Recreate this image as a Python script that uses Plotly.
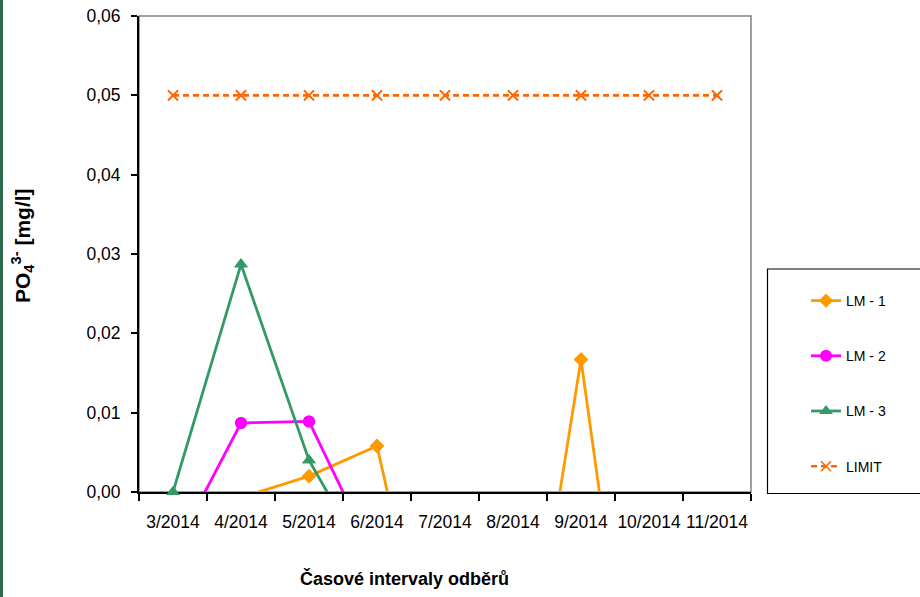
import plotly.graph_objects as go

# Sampling months and PO4 concentrations [mg/l]
months = ["3/2014", "4/2014", "5/2014", "6/2014", "7/2014",
          "8/2014", "9/2014", "10/2014", "11/2014"]
lm1 = [None, -0.0007, 0.002, 0.0058, -0.032, -0.037, 0.0167, -0.045, None]
lm2 = [-0.0077, 0.0087, 0.0089, -0.0089, None, None, None, None, None]
lm3 = [0.0, 0.0287, 0.004, -0.011, None, None, None, None, None]
limit = [0.05] * 9

y_ticks = [0.0, 0.01, 0.02, 0.03, 0.04, 0.05, 0.06]

FONT = "Liberation Sans, Arial, sans-serif"

series = [
    ("LM - 1", lm1, "#FF9900", "diamond", 11, "solid", 2.8),
    ("LM - 2", lm2, "#FF00FF", "circle", 12, "solid", 2.8),
    ("LM - 3", lm3, "#339966", "triangle-up", 12, "solid", 2.8),
    ("LIMIT", limit, "#FF6600", "x-thin", 10, "6px,4px", 2.6),
]

fig = go.Figure()
for name, vals, color, sym, size, dash, width in series:
    marker = dict(symbol=sym, size=size, color=color,
                  line=dict(color=color, width=1.6 if sym == "x-thin" else 0))
    fig.add_trace(go.Scatter(
        x=months, y=vals, name=name, mode="lines+markers",
        line=dict(color=color, width=width, dash=dash),
        marker=marker, legendgroup=name, cliponaxis=True,
    ))
    # markers on or above zero are drawn unclipped so they sit over the axis line
    visible = [v if (v is not None and v >= 0) else None for v in vals]
    fig.add_trace(go.Scatter(
        x=months, y=visible, mode="markers", marker=marker,
        legendgroup=name, showlegend=False, cliponaxis=False, hoverinfo="skip",
    ))

W, H = 920, 597
L, R, T, B = 139, 169, 16, 105
pw, ph = W - L - R, H - T - B


def px_x(p):
    return (p - L) / pw


def px_y(p):
    return (H - B - p) / ph


fig.update_layout(
    width=W, height=H,
    margin=dict(l=L, r=R, t=T, b=B, autoexpand=False),
    paper_bgcolor="white", plot_bgcolor="white",
    separators=",.",
    font=dict(family=FONT, size=17.5, color="black"),
    showlegend=True,
    legend=dict(
        x=px_x(806), y=px_y(285), xanchor="left", yanchor="top",
        bgcolor="rgba(0,0,0,0)", borderwidth=0,
        font=dict(family=FONT, size=14, color="black"),
        traceorder="grouped", tracegroupgap=34,
    ),
    xaxis=dict(
        type="category", range=[-0.5, 8.5], tickson="boundaries",
        showline=True, linecolor="black", linewidth=2,
        ticks="outside", ticklen=7, tickwidth=1.5, tickcolor="black",
        showgrid=False, zeroline=False, layer="below traces",
        tickangle=0, tickfont=dict(family=FONT, size=17.5), ticklabelstandoff=13,
    ),
    yaxis=dict(
        range=[0, 0.06], tickvals=y_ticks, tickformat=".2f",
        showline=True, linecolor="black", linewidth=2,
        ticks="outside", ticklen=6, tickwidth=1.5, tickcolor="black",
        showgrid=False, zeroline=False, layer="below traces",
        tickfont=dict(family=FONT, size=17.5), ticklabelstandoff=7,
    ),
    shapes=[
        # plot frame (top and right edges in gray)
        dict(type="rect", xref="paper", yref="paper", x0=0, x1=1, y0=0, y1=1,
             line=dict(color="#808080", width=1.5), layer="below"),
        # legend box
        dict(type="rect", xref="paper", yref="paper",
             x0=px_x(767.5), x1=px_x(930), y0=px_y(493.5), y1=px_y(269),
             line=dict(color="black", width=1.2), fillcolor="white", layer="below"),
        # left page border
        dict(type="line", xref="paper", yref="paper",
             x0=px_x(1.5), x1=px_x(1.5), y0=px_y(-5), y1=px_y(H + 5),
             line=dict(color="#2E6B4F", width=3)),
    ],
    annotations=[
        dict(text="<b>Časové intervaly odběrů</b>", xref="paper", yref="paper",
             x=px_x(404), y=px_y(578), xanchor="center", yanchor="middle",
             showarrow=False, font=dict(family=FONT, size=18)),
        dict(text="<b>PO<sub>4</sub><sup>3-</sup> [mg/l]</b>", xref="paper", yref="paper",
             x=px_x(23), y=px_y(246), xanchor="center", yanchor="middle",
             textangle=-90, showarrow=False, font=dict(family=FONT, size=21)),
    ],
)

fig.write_html("out.html")
